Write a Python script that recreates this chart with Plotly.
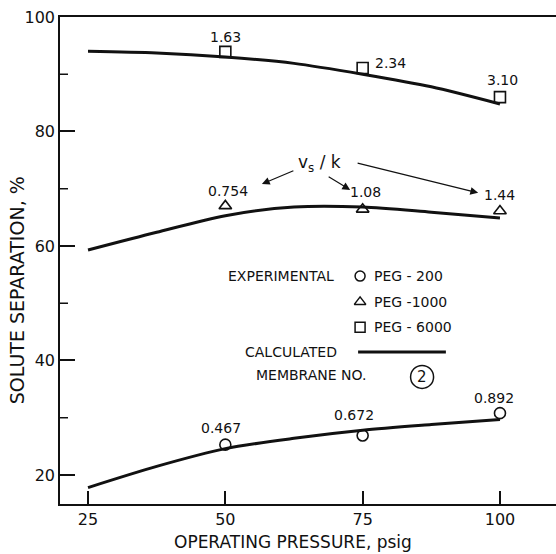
import plotly.graph_objects as go

# ---- data ----
pressure_exp = [50, 75, 100]
peg200 = [25.3, 26.9, 30.8]
peg1000 = [67.0, 66.4, 66.1]
peg6000 = [93.9, 91.1, 86.0]

vsk_200 = ["0.467", "0.672", "0.892"]
vsk_1000 = ["0.754", "1.08", "1.44"]
vsk_6000 = ["1.63", "2.34", "3.10"]

pressure_calc = [25, 37.5, 50, 62.5, 75, 87.5, 100]
calc_200 = [17.8, 21.5, 24.6, 26.4, 27.8, 28.8, 29.7]
calc_1000 = [59.3, 62.4, 65.3, 66.8, 66.8, 65.9, 64.9]
calc_6000 = [94.0, 93.7, 93.0, 91.9, 90.0, 87.8, 84.8]

x_ticks = [25, 50, 75, 100]
y_major = [20, 40, 60, 80, 100]
y_minor = [30, 50, 70, 90]

FONT = "DejaVu Sans"
INK = "#111111"

fig = go.Figure()

for ys in (calc_200, calc_1000, calc_6000):
    fig.add_trace(go.Scatter(x=pressure_calc, y=ys, mode="lines",
                             line=dict(color=INK, width=3, shape="spline", smoothing=0.8),
                             showlegend=False, hoverinfo="skip"))

for ys, sym in ((peg200, "circle-open"), (peg1000, "triangle-up-open"), (peg6000, "square-open")):
    fig.add_trace(go.Scatter(x=pressure_exp, y=ys, mode="markers",
                             marker=dict(symbol=sym, size=11, color=INK, line=dict(width=1.6, color=INK)),
                             showlegend=False))

# legend symbols on an overlay axis (0..1)
leg_y = [0.468, 0.415, 0.363]
for yy, sym in zip(leg_y, ("circle-open", "triangle-up-open", "square-open")):
    fig.add_trace(go.Scatter(x=[0.605], y=[yy], mode="markers", xaxis="x2", yaxis="y2",
                             marker=dict(symbol=sym, size=10, color=INK, line=dict(width=1.5, color=INK)),
                             showlegend=False, hoverinfo="skip"))

annotations = []
# value labels
offsets_6000 = [(0, 15, "center"), (10, 5, "left"), (3, 17, "center")]
offsets_1000 = [(3, 15, "center"), (3, 17, "center"), (0, 16, "center")]
offsets_200 = [(-4, 17, "center"), (-9, 20, "center"), (-6, 15, "center")]
for xs, ys, labs, offs in ((pressure_exp, peg6000, vsk_6000, offsets_6000),
                           (pressure_exp, peg1000, vsk_1000, offsets_1000),
                           (pressure_exp, peg200, vsk_200, offsets_200)):
    for x, y, t, (dx, dy, xa) in zip(xs, ys, labs, offs):
        annotations.append(dict(x=x, y=y, text=t, showarrow=False, xshift=dx, yshift=dy,
                                xanchor=xa, yanchor="middle", font=dict(family=FONT, size=14, color=INK)))

# v_s/k label and arrows
annotations.append(dict(x=0.524, y=0.700, xref="paper", yref="paper", text="v<sub>s</sub> / k",
                        xanchor="center", yanchor="middle",
                        showarrow=False, font=dict(family=FONT, size=17, color=INK)))
for hx, hy, ax, ay in ((0.407, 0.657, 33, -14), (0.585, 0.645, -23, -14), (0.843, 0.639, -122, -30)):
    annotations.append(dict(x=hx, y=hy, xref="paper", yref="paper", ax=ax, ay=ay, text="",
                            showarrow=True, arrowhead=2, arrowsize=1.3, arrowwidth=1.2, arrowcolor=INK))

# legend text
lf = dict(family=FONT, size=14, color=INK)
def lab(x, y, t, xa, f=lf, angle=0):
    return dict(x=x, y=y, xref="paper", yref="paper", text=t, showarrow=False,
                xanchor=xa, yanchor="middle", font=f, textangle=angle, borderpad=0)

annotations += [
    lab(0.554, 0.468, "EXPERIMENTAL", "right"),
    lab(0.631, 0.468, "PEG - 200", "left"),
    lab(0.631, 0.415, "PEG -1000", "left"),
    lab(0.631, 0.363, "PEG - 6000", "left"),
    lab(0.560, 0.312, "CALCULATED", "right"),
    lab(0.621, 0.265, "MEMBRANE NO.", "right"),
    lab(0.730, 0.261, "2", "center", dict(family=FONT, size=15, color=INK)),
    # axis titles
    lab(0.470, -0.078, "OPERATING PRESSURE, psig", "center", dict(family=FONT, size=17, color=INK)),
    lab(-0.0867, 0.439, "SOLUTE SEPARATION, %", "center", dict(family=FONT, size=19, color=INK), -90),
]

shapes = [
    dict(type="line", xref="paper", yref="paper", x0=0.601, x1=0.778, y0=0.312, y1=0.312,
         line=dict(color=INK, width=3)),
    dict(type="circle", xref="paper", yref="paper", x0=0.730 - 11.5/496, x1=0.730 + 11.5/496,
         y0=0.261 - 11.5/487, y1=0.261 + 11.5/487, line=dict(color=INK, width=1.5)),
]
# minor y ticks
for v in y_minor:
    shapes.append(dict(type="line", xref="paper", yref="y", x0=0, x1=8/496, y0=v, y1=v,
                       line=dict(color=INK, width=1.5)))

fig.update_layout(
    width=556, height=554,
    margin=dict(l=60, r=0, t=17, b=50),
    paper_bgcolor="white", plot_bgcolor="white",
    xaxis=dict(range=[19.9, 110.2], tickvals=x_ticks, ticks="inside", ticklen=13, tickwidth=1.5,
               tickcolor=INK, showline=True, linecolor=INK, linewidth=1.5, mirror=True,
               showgrid=False, zeroline=False,
               tickfont=dict(family=FONT, size=16, color=INK)),
    yaxis=dict(range=[14.93, 100], tickvals=y_major, ticks="inside", ticklen=15, tickwidth=1.5,
               tickcolor=INK, showline=True, linecolor=INK, linewidth=1.5,
               showgrid=False, zeroline=False,
               tickfont=dict(family=FONT, size=16, color=INK)),
    xaxis2=dict(range=[0, 1], overlaying="x", visible=False),
    yaxis2=dict(range=[0, 1], overlaying="y", visible=False),
    annotations=annotations,
    shapes=shapes,
    showlegend=False,
)

fig.write_html("out.html")
